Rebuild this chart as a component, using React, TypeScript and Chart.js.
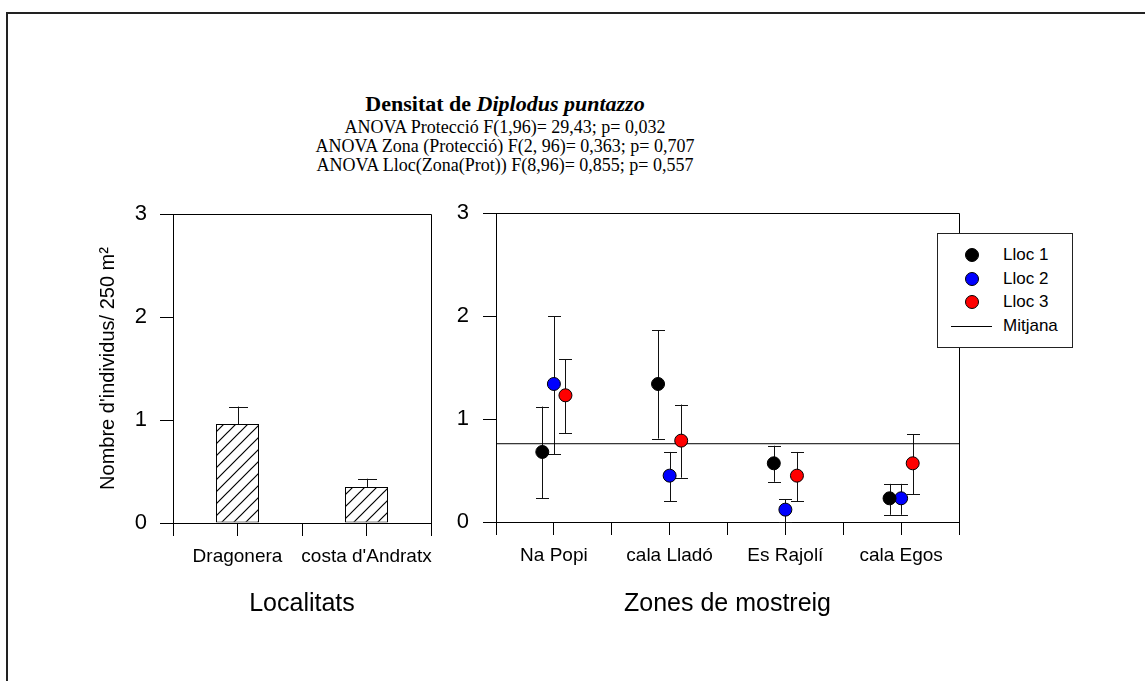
import React, { useEffect, useRef } from 'react';
import { Chart, registerables } from 'chart.js';

Chart.register(...registerables);

// ---------- data ----------
const localitats = ['Dragonera', "costa d'Andratx"];
const densitatLocalitat = [0.96, 0.35];
const densitatLocalitatSup = [1.13, 0.43];

const zones = ['Na Popi', 'cala Lladó', 'Es Rajolí', 'cala Egos'];
const llocNoms = ['Lloc 1', 'Lloc 2', 'Lloc 3'];
const lloc1 = [0.68, 1.34, 0.57, 0.23];
const lloc1Sup = [1.12, 1.86, 0.74, 0.37];
const lloc1Inf = [0.23, 0.81, 0.39, 0.07];
const lloc2 = [1.34, 0.45, 0.12, 0.23];
const lloc2Sup = [2.0, 0.68, 0.22, 0.37];
const lloc2Inf = [0.66, 0.2, 0.0, 0.07];
const lloc3 = [1.23, 0.79, 0.45, 0.57];
const lloc3Sup = [1.58, 1.14, 0.68, 0.85];
const lloc3Inf = [0.86, 0.43, 0.2, 0.27];
const mitjana = 0.76;
const mitjanaNom = 'Mitjana';

const yMin = 0;
const yMax = 3;
const yStep = 1;

const titol = 'Densitat de ';
const titolEspecie = 'Diplodus puntazzo';
const subtitols = [
  'ANOVA Protecció F(1,96)= 29,43; p= 0,032',
  'ANOVA Zona (Protecció) F(2, 96)= 0,363; p= 0,707',
  'ANOVA Lloc(Zona(Prot)) F(8,96)= 0,855; p= 0,557',
];
const yTitol = "Nombre d'individus/ 250 m²";
const xTitolEsq = 'Localitats';
const xTitolDre = 'Zones de mostreig';

// ---------- styles ----------
const llocColors = ['#000000', '#0000ff', '#ff0000'];
const llocOffsets = [-0.1, 0, 0.1];
const SANS = '"Liberation Sans", Arial, Helvetica, sans-serif';
const SERIF = '"Liberation Serif", "Times New Roman", serif';

function makeHatch(): CanvasPattern | string {
  const s = 12;
  const c = document.createElement('canvas');
  c.width = s;
  c.height = s;
  const g = c.getContext('2d');
  if (!g) return '#fff';
  g.fillStyle = '#fff';
  g.fillRect(0, 0, s, s);
  g.strokeStyle = '#000';
  g.lineWidth = 1.2;
  g.beginPath();
  g.moveTo(0, s);
  g.lineTo(s, 0);
  g.moveTo(-s / 2, s / 2);
  g.lineTo(s / 2, -s / 2);
  g.moveTo(s / 2, s * 1.5);
  g.lineTo(s * 1.5, s / 2);
  g.stroke();
  return g.createPattern(c, 'repeat') || '#fff';
}

const errorBarsPlugin = {
  id: 'errorBars',
  beforeDatasetsDraw(chart: any) {
    const ctx = chart.ctx;
    const yScale = chart.scales.y;
    ctx.save();
    ctx.strokeStyle = '#111';
    ctx.lineWidth = 1;
    chart.data.datasets.forEach((ds: any, di: number) => {
      if (!ds.errSup) return;
      const meta = chart.getDatasetMeta(di);
      const cap = ds.capWidth || 12;
      meta.data.forEach((el: any, i: number) => {
        const x = Math.round(el.x) + 0.5;
        const vals = ds.data[i];
        const v = typeof vals === 'number' ? vals : vals.y;
        const top = yScale.getPixelForValue(ds.errSup[i]);
        const bot = yScale.getPixelForValue(ds.errInf ? ds.errInf[i] : v);
        ctx.beginPath();
        ctx.moveTo(x, bot);
        ctx.lineTo(x, top);
        ctx.moveTo(x - cap / 2, Math.round(top) + 0.5);
        ctx.lineTo(x + cap / 2, Math.round(top) + 0.5);
        if (ds.errInf) {
          ctx.moveTo(x - cap / 2, Math.round(bot) + 0.5);
          ctx.lineTo(x + cap / 2, Math.round(bot) + 0.5);
        }
        ctx.stroke();
      });
    });
    ctx.restore();
  },
};

const boxPlugin = {
  id: 'boxFrame',
  beforeDatasetsDraw(chart: any) {
    const { ctx, chartArea } = chart;
    ctx.save();
    ctx.strokeStyle = '#000';
    ctx.lineWidth = 1;
    ctx.beginPath();
    const l = Math.round(chartArea.left) + 0.5;
    const t = Math.round(chartArea.top) + 0.5;
    const r = Math.round(chartArea.right) + 0.5;
    const b = Math.round(chartArea.bottom) + 0.5;
    ctx.moveTo(l, t);
    ctx.lineTo(r, t);
    ctx.lineTo(r, b);
    ctx.stroke();
    ctx.restore();
  },
};

function halfLabel(names: string[]) {
  return (value: any) => {
    const v = Number(value);
    const i = Math.floor(v);
    return Math.abs(v - i - 0.5) < 1e-6 && names[i] !== undefined ? names[i] : '';
  };
}

function yAxis(width: number, withTitle: boolean, pad: number) {
  return {
    type: 'linear',
    min: yMin,
    max: yMax,
    afterFit: (s: any) => {
      s.width = width;
    },
    ticks: {
      stepSize: yStep,
      color: '#000',
      font: { family: SANS, size: 22 },
      padding: pad,
    },
    grid: {
      drawOnChartArea: false,
      drawTicks: true,
      tickLength: 13,
      color: '#000',
      tickColor: '#000',
    },
    border: { display: true, color: '#000', width: 1 },
    title: {
      display: withTitle,
      text: yTitol,
      color: '#000',
      font: { family: SANS, size: 20 },
      padding: { top: 36, bottom: 0 },
    },
  };
}

function xAxis(height: number, max: number, names: string[], title: string) {
  return {
    type: 'linear',
    min: 0,
    max: max,
    offset: false,
    afterFit: (s: any) => {
      s.height = height;
    },
    ticks: {
      stepSize: 0.5,
      autoSkip: false,
      maxRotation: 0,
      minRotation: 0,
      color: '#000',
      font: { family: SANS, size: 19 },
      padding: 9,
      callback: halfLabel(names),
    },
    grid: {
      offset: false,
      drawOnChartArea: false,
      drawTicks: true,
      tickLength: 13,
      color: '#000',
      tickColor: '#000',
    },
    border: { display: true, color: '#000', width: 1 },
    title: {
      display: true,
      text: title,
      color: '#000',
      font: { family: SANS, size: 25 },
      padding: { top: 0, bottom: 11 },
    },
  };
}

// canvas placement (page coordinates)
const L = { left: 60, top: 180, width: 385, height: 450 };
const R = { left: 445, top: 180, width: 695, height: 450 };

export default function App() {
  const leftRef = useRef<HTMLCanvasElement | null>(null);
  const rightRef = useRef<HTMLCanvasElement | null>(null);

  useEffect(() => {
    if (!leftRef.current || !rightRef.current) return;
    const hatch = makeHatch();

    const left = new Chart(leftRef.current, {
      type: 'bar',
      data: {
        datasets: [
          {
            label: 'Densitat',
            data: localitats.map((_, i) => ({ x: i + 0.5, y: densitatLocalitat[i] })),
            backgroundColor: hatch as any,
            borderColor: '#000',
            borderWidth: 1,
            borderSkipped: false,
            barPercentage: 0.667,
            categoryPercentage: 1,
            errSup: densitatLocalitatSup,
            capWidth: 19,
          } as any,
        ],
      },
      options: {
        animation: false,
        responsive: false,
        maintainAspectRatio: false,
        layout: { padding: { top: 214 - L.top, right: L.left + L.width - 431, left: 0, bottom: 0 } },
        plugins: { legend: { display: false }, tooltip: { enabled: false }, title: { display: false } },
        scales: {
          x: xAxis(L.top + L.height - 523, 2, localitats, xTitolEsq),
          y: yAxis(173 - L.left, true, 13),
        } as any,
      },
      plugins: [boxPlugin, errorBarsPlugin],
    });

    const llocVals = [lloc1, lloc2, lloc3];
    const llocSup = [lloc1Sup, lloc2Sup, lloc3Sup];
    const llocInf = [lloc1Inf, lloc2Inf, lloc3Inf];

    const right = new Chart(rightRef.current, {
      type: 'scatter',
      data: {
        datasets: [
          ...llocNoms.map((nom, k) => ({
            label: nom,
            data: zones.map((_, i) => ({ x: i + 0.5 + llocOffsets[k], y: llocVals[k][i] })),
            backgroundColor: llocColors[k],
            borderColor: '#000',
            borderWidth: 1,
            pointRadius: 6.5,
            pointHoverRadius: 6.5,
            errSup: llocSup[k],
            errInf: llocInf[k],
            capWidth: 13,
          })),
          {
            type: 'line',
            label: mitjanaNom,
            data: [
              { x: 0, y: mitjana },
              { x: zones.length, y: mitjana },
            ],
            borderColor: '#000',
            borderWidth: 1,
            pointRadius: 0,
            fill: false,
          },
        ] as any,
      },
      options: {
        animation: false,
        responsive: false,
        maintainAspectRatio: false,
        layout: { padding: { top: 213 - R.top, right: R.left + R.width - 959, left: 0, bottom: 0 } },
        plugins: { legend: { display: false }, tooltip: { enabled: false }, title: { display: false } },
        scales: {
          x: xAxis(R.top + R.height - 522, zones.length, zones, xTitolDre),
          y: yAxis(496 - R.left, false, 14),
        } as any,
      },
      plugins: [boxPlugin, errorBarsPlugin],
    });

    return () => {
      left.destroy();
      right.destroy();
    };
  }, []);

  const legendRows = [
    ...llocNoms.map((n, k) => ({ name: n, color: llocColors[k], line: false })),
    { name: mitjanaNom, color: '#000', line: true },
  ];
  const rowY = [22, 46, 69, 93];

  return (
    <div
      style={{
        position: 'fixed',
        left: 0,
        top: 0,
        width: 1145,
        height: 681,
        overflow: 'hidden',
        background: '#fff',
      }}
    >
      <div
        style={{
          position: 'absolute',
          left: 6,
          top: 12,
          width: 1300,
          height: 900,
          borderTop: '2px solid #222',
          borderLeft: '2px solid #222',
        }}
      />
      <div
        style={{
          position: 'absolute',
          left: 205,
          width: 600,
          top: 92,
          textAlign: 'center',
          fontFamily: SERIF,
          fontSize: 22,
          lineHeight: '24px',
          fontWeight: 'bold',
          color: '#000',
          whiteSpace: 'nowrap',
        }}
      >
        {titol}
        <i>{titolEspecie}</i>
      </div>
      {subtitols.map((s, i) => (
        <div
          key={i}
          style={{
            position: 'absolute',
            left: 205,
            width: 600,
            top: 118 + i * 19,
            textAlign: 'center',
            fontFamily: SERIF,
            fontSize: 18,
            lineHeight: '19px',
            color: '#000',
            whiteSpace: 'nowrap',
          }}
        >
          {s}
        </div>
      ))}
      <canvas
        ref={leftRef}
        width={L.width}
        height={L.height}
        style={{ position: 'absolute', left: L.left, top: L.top, width: L.width, height: L.height }}
      />
      <canvas
        ref={rightRef}
        width={R.width}
        height={R.height}
        style={{ position: 'absolute', left: R.left, top: R.top, width: R.width, height: R.height }}
      />
      <div
        style={{
          position: 'absolute',
          left: 937,
          top: 233,
          width: 136,
          height: 115,
          boxSizing: 'border-box',
          border: '1px solid #222',
          background: '#fff',
        }}
      >
        {legendRows.map((r, i) => (
          <React.Fragment key={r.name}>
            {r.line ? (
              <div
                style={{
                  position: 'absolute',
                  left: 13,
                  top: rowY[i] - 1,
                  width: 41,
                  height: 0,
                  borderTop: '1px solid #000',
                }}
              />
            ) : (
              <div
                style={{
                  position: 'absolute',
                  left: 34 - 7,
                  top: rowY[i] - 1 - 7,
                  width: 14,
                  height: 14,
                  boxSizing: 'border-box',
                  borderRadius: '50%',
                  border: '1px solid #000',
                  background: r.color,
                }}
              />
            )}
            <div
              style={{
                position: 'absolute',
                left: 65,
                top: rowY[i] - 1 - 11,
                height: 22,
                lineHeight: '22px',
                fontFamily: SANS,
                fontSize: 17,
                color: '#000',
                whiteSpace: 'nowrap',
              }}
            >
              {r.name}
            </div>
          </React.Fragment>
        ))}
      </div>
    </div>
  );
}
